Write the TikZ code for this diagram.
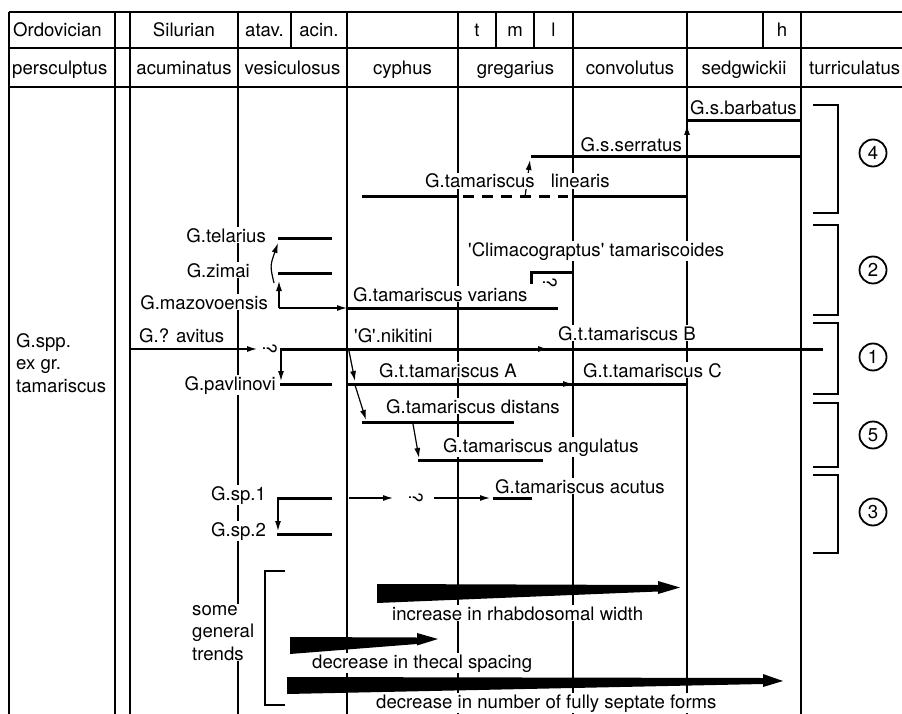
\documentclass[tikz,border=0pt]{standalone}
\usepackage{fontspec}
\setmainfont{TeX Gyre Heros}
\usetikzlibrary{arrows.meta}

\begin{document}
\begin{tikzpicture}[x=1pt,y=-1pt,
  font=\fontsize{18.6}{22.5}\selectfont,
  col/.style={line width=1.1pt},
  bar/.style={line width=3pt},
  arr/.style={line width=1.2pt,-{Latex[length=10pt,width=6pt]}},
  hd/.style={anchor=base,inner sep=0pt},
  lbl/.style={fill=white,inner sep=1pt},
  ques/.style={rotate=-90,inner sep=0pt},
  zone/.style={circle,draw,line width=1.8pt,inner sep=0pt,minimum size=27pt}]
\useasboundingbox (0,0) rectangle (902,714);

% table frame
\foreach \y in {12,48,87}
  \draw[col] (9,\y) -- (902,\y);
\foreach \x in {9,115,130,238,347,458,573,687,801}
  \draw[col] (\x,12) -- (\x,714);
\foreach \x in {291,496,534,763}
  \draw[col] (\x,12) -- (\x,48);

% stages
\node[hd,anchor=base west] (ordo) at (13,37) {Ordovician};
\node[hd] (silu) at (184,37) {Silurian};
\node[hd] (atav) at (264.5,37) {atav.};
\node[hd] (acin) at (319,37) {acin.};
\node[hd] (tt) at (477,37) {t};
\node[hd] (mm) at (515,37) {m};
\node[hd] (ll) at (553.5,37) {l};
\node[hd] (hh) at (782,37) {h};
% zones
\node[hd,anchor=base west] (pers) at (12,75) {persculptus};
\node[hd] (acum) at (184,75) {acuminatus};
\node[hd] (vesi) at (292.5,75) {vesiculosus};
\node[hd] (cyph) at (402.5,75) {cyphus};
\node[hd] (greg) at (515.5,75) {gregarius};
\node[hd] (conv) at (630,75) {convolutus};
\node[hd] (sedg) at (744,75) {sedgwickii};
\node[hd,anchor=base west] (turr) at (809,75) {turriculatus};

% linearis to serratus
\draw[arr] (525,197) -- (530,160);

% species names
\node[lbl,anchor=base west] (barb) at (689,115) {G.s.barbatus};
\node[lbl,anchor=base east] (serr) at (683,152) {G.s.serratus};
\node[lbl,anchor=base west] (line) at (424,188) {G.tamariscus\hspace{16pt}linearis};
\node[lbl,anchor=base west] (clim) at (467,256) {\textquotesingle Climacograptus\textquotesingle\ tamariscoides};
\node[lbl,anchor=base east] (tela) at (267,242) {G.telarius};
\node[lbl,anchor=base east] (zima) at (251,277) {G.zimai};
\node[lbl,anchor=base east] (mazo) at (269,309) {G.mazovoensis};
\node[lbl,anchor=base west] (vari) at (352,301) {G.tamariscus varians};
\node[lbl,anchor=base west,align=left] (spp) at (15,392) {G.spp.\\ex gr.\\tamariscus};
\node[lbl,anchor=base west] (avit) at (138,342) {G.? avitus};
\node[lbl,anchor=base west] (niki) at (353,342) {\textquotesingle G\textquotesingle.nikitini};
\node[lbl,anchor=base west] (tamb) at (557,340) {G.t.tamariscus B};
\node[lbl,anchor=base east] (pavl) at (277,390) {G.pavlinovi};
\node[lbl,anchor=base west] (tama) at (378,377) {G.t.tamariscus A};
\node[lbl,anchor=base west] (tamc) at (582,377) {G.t.tamariscus C};
\node[lbl,anchor=base west] (dist) at (385,413) {G.tamariscus distans};
\node[lbl,anchor=base west] (angu) at (442,452) {G.tamariscus angulatus};
\node[lbl,anchor=base west] (acut) at (494,493) {G.tamariscus acutus};
\node[lbl,anchor=base west] (spa) at (210,500) {G.sp.1};
\node[lbl,anchor=base west] (spb) at (210,536) {G.sp.2};

% ranges
\draw[bar] (687,121) -- (801,121);
\draw[arr] (687,157) -- (687,125);
\draw[bar] (531,157) -- (801,157);
\draw[bar] (362,197) -- (458,197);
\draw[bar,dash pattern=on 11pt off 8pt] (463,197) -- (568,197);
\draw[bar] (573,197) -- (687,197);
\draw[bar] (531,284) -- (531,272) -- (573,272);
\node[ques] (q3) at (550,283) {?};
\draw[bar] (278,238) -- (332,238);
\draw[bar] (278,273) -- (332,273);
\draw[arr] (274,283) .. controls (270,266) .. (278,243);
\draw[arr] (279,308) -- (279,281);
\draw[arr] (279,308) -- (347,308);
\draw[bar] (347,308) -- (558,308);
\draw[arr] (130,349) -- (257,349);
\node[ques] (q1) at (270,349) {?};
\draw[bar] (280,349) -- (823,349);
\draw[arr] (520,349) -- (548,349);
\draw[arr] (281,350) -- (281,381);
\draw[bar] (280,384) -- (332,384);
\draw[bar] (347,384) -- (687,384);
\draw[arr] (550,384) -- (573,384);
\draw[arr] (349,351) -- (355,381);
\draw[arr] (355,385) -- (366,420);
\draw[bar] (362,422) -- (514,422);
\draw[arr] (413,424) -- (419,458);
\draw[bar] (418,460) -- (543,460);
\draw[bar] (277,498) -- (332,498);
\draw[arr] (278,499) -- (278,531);
\draw[bar] (277,534) -- (332,534);
\draw[arr] (349,498) -- (393,498);
\node[ques] (q2) at (416,498) {?};
\draw[arr] (434,498) -- (490,498);
\draw[bar] (493,498) -- (532,498);

% groups
\foreach \n/\t/\b/\c in {4/105/213/153, 2/225/315/270, 1/323/394/357, 5/403/467/435, 3/475/553/512}{
  \draw[line width=1.2pt] (813,\t) -- (838,\t) -- (838,\b) -- (813,\b);
  \node[zone] (z\n) at (873,\c) {\n};
}

% trends
\draw[line width=1.2pt] (285,571) -- (265,571) -- (265,705) -- (285,705);
\node[lbl,anchor=base west,align=left] (some) at (191,660) {some\\general\\trends};
\fill (377,584) -- (658,585) -- (658,581) -- (680,587.5) -- (658,594) -- (658,591.5) -- (377,603) -- cycle;
\fill (290,637) -- (417,637.5) -- (417,633) -- (438,639) -- (417,645.5) -- (417,644) -- (290,654) -- cycle;
\fill (287,677) -- (763,678) -- (763,674) -- (783,681) -- (763,687) -- (763,684) -- (287,694) -- cycle;
\node[lbl,anchor=base west] (incr) at (391,620) {increase in rhabdosomal width};
\node[lbl,anchor=base west] (thec) at (311,668) {decrease in thecal spacing};
\node[lbl,anchor=base west] (sept) at (375,708) {decrease in number of fully septate forms};
\end{tikzpicture}
\end{document}
